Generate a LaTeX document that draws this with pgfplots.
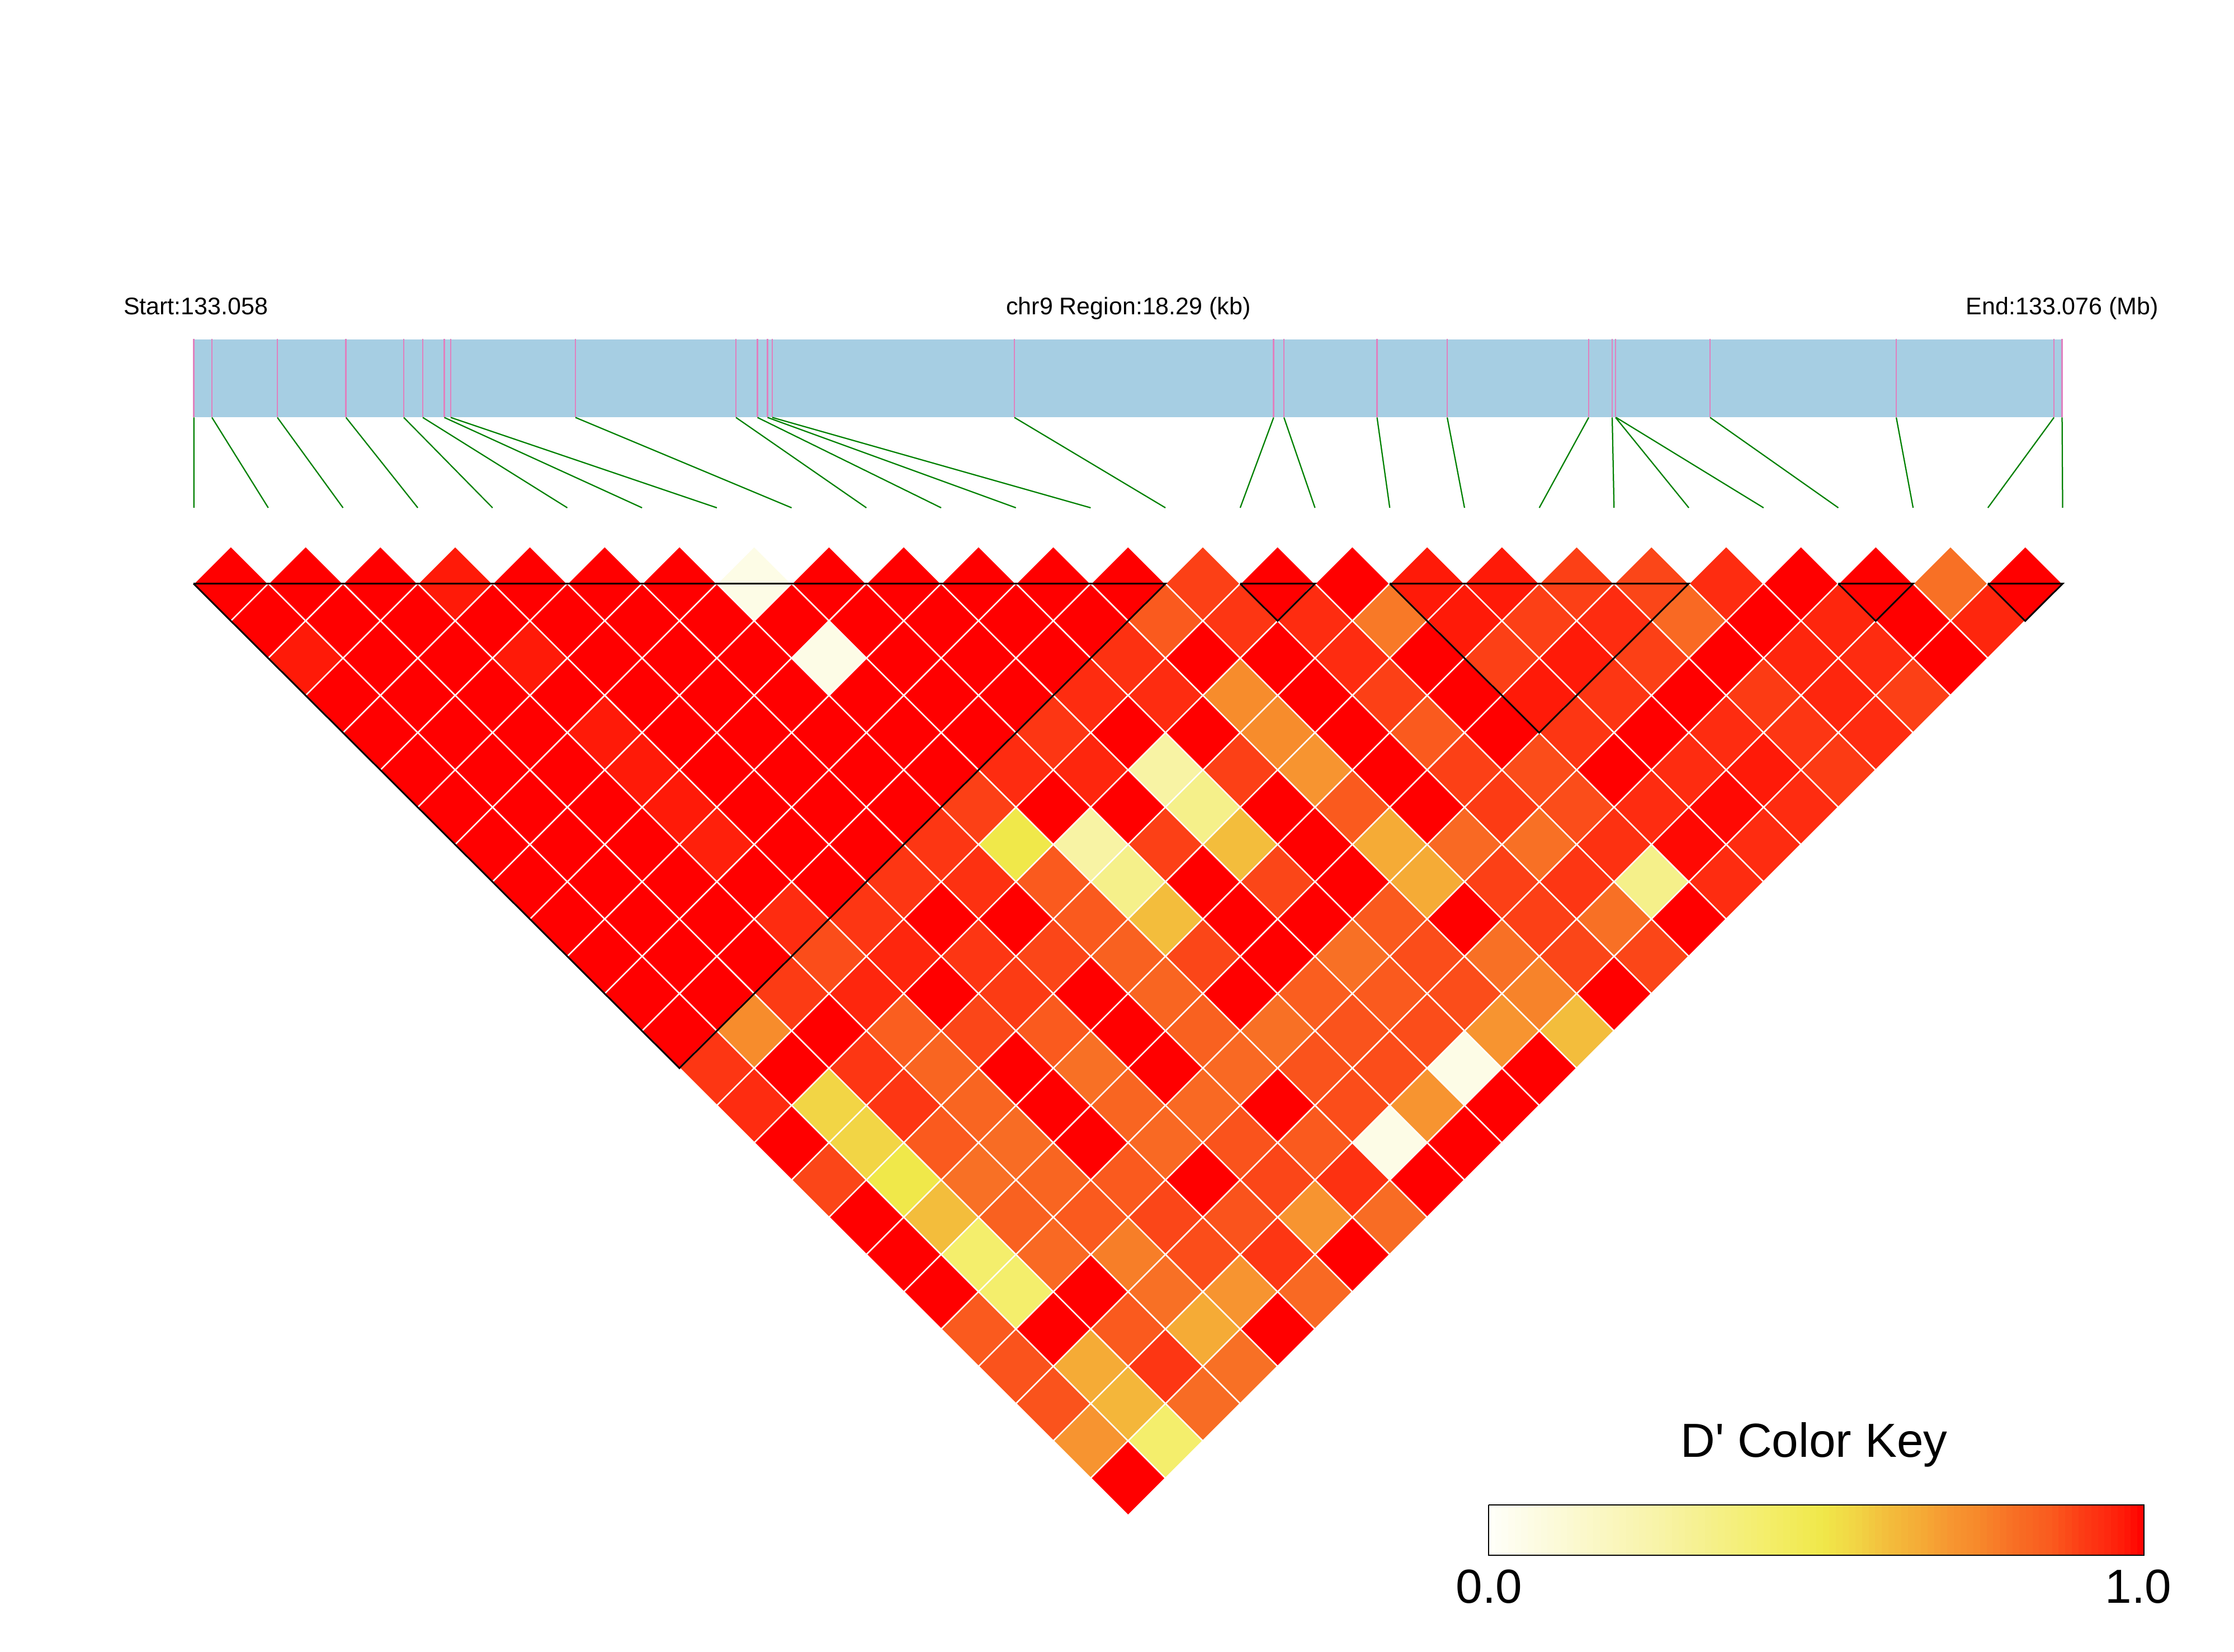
\documentclass[border=0pt]{standalone}
\usepackage{fontspec}
\setmainfont{Liberation Sans}
\newfontfamily\plainfont{Liberation Sans}
\usepackage{pgfplots}
\usepackage{pgfplotstable}
\pgfplotsset{compat=1.18}
\definecolor{trackblue}{HTML}{A6CEE3}
\definecolor{snppink}{HTML}{E080BE}
\definecolor{linkgreen}{HTML}{008000}
\pgfplotsset{canvas/.style={
  at={(0,0)}, anchor=south west,
  scale only axis, width=799pt, height=590.6pt,
  xmin=0, xmax=3995, ymin=0, ymax=2953, y dir=reverse,
  hide axis, clip=false, unbounded coords=jump}}
\pgfplotstableread[row sep=\\]{
i d v\\
0 1 1\\ 1 1 1\\ 2 1 1\\ 3 1 .97\\ 4 1 1\\ 5 1 1\\ 6 1 1\\ 7 1 .06\\ 8 1 1\\ 9 1 1\\ 10 1 1\\ 11 1 1\\ 12 1 1\\ 13 1 .90\\ 14 1 1\\ 15 1 1\\ 16 1 .97\\ 17 1 .97\\ 18 1 .90\\ 19 1 .89\\ 20 1 .94\\ 21 1 1\\ 22 1 1\\ 23 1 .80\\ 24 1 1\\
0 2 1\\ 1 2 1\\ 2 2 1\\ 3 2 1\\ 4 2 1\\ 5 2 1\\ 6 2 1\\ 7 2 1\\ 8 2 1\\ 9 2 1\\ 10 2 1\\ 11 2 1\\ 12 2 .86\\ 13 2 .92\\ 14 2 .94\\ 15 2 .78\\ 16 2 .97\\ 17 2 .90\\ 18 2 .94\\ 19 2 .82\\ 20 2 1\\ 21 2 .95\\ 22 2 1\\ 23 2 .95\\
0 3 .97\\ 1 3 1\\ 2 3 1\\ 3 3 .97\\ 4 3 1\\ 5 3 1\\ 6 3 1\\ 7 3 .06\\ 8 3 1\\ 9 3 1\\ 10 3 1\\ 11 3 .93\\ 12 3 1\\ 13 3 1\\ 14 3 .94\\ 15 3 1\\ 16 3 .90\\ 17 3 .97\\ 18 3 .90\\ 19 3 1\\ 20 3 .95\\ 21 3 .94\\ 22 3 1\\
0 4 1\\ 1 4 1\\ 2 4 1\\ 3 4 1\\ 4 4 1\\ 5 4 1\\ 6 4 1\\ 7 4 1\\ 8 4 1\\ 9 4 1\\ 10 4 .94\\ 11 4 .94\\ 12 4 .74\\ 13 4 1\\ 14 4 .90\\ 15 4 1\\ 16 4 .97\\ 17 4 .92\\ 18 4 1\\ 19 4 .91\\ 20 4 .95\\ 21 4 .90\\
0 5 1\\ 1 5 1\\ 2 5 1\\ 3 5 .97\\ 4 5 1\\ 5 5 1\\ 6 5 1\\ 7 5 1\\ 8 5 1\\ 9 5 .92\\ 10 5 1\\ 11 5 1\\ 12 5 .74\\ 13 5 1\\ 14 5 .86\\ 15 5 1\\ 16 5 .92\\ 17 5 1\\ 18 5 .94\\ 19 5 .92\\ 20 5 .94\\
0 6 1\\ 1 6 1\\ 2 6 1\\ 3 6 .97\\ 4 6 1\\ 5 6 1\\ 6 6 1\\ 7 6 1\\ 8 6 .94\\ 9 6 .95\\ 10 6 .27\\ 11 6 .90\\ 12 6 .71\\ 13 6 1\\ 14 6 .90\\ 15 6 .88\\ 16 6 1\\ 17 6 .94\\ 18 6 .97\\ 19 6 .91\\
0 7 1\\ 1 7 1\\ 2 7 1\\ 3 7 .97\\ 4 7 1\\ 5 7 1\\ 6 7 1\\ 7 7 .90\\ 8 7 1\\ 9 7 1\\ 10 7 .34\\ 11 7 1\\ 12 7 .86\\ 13 7 1\\ 14 7 .91\\ 15 7 .88\\ 16 7 .94\\ 17 7 .99\\ 18 7 .94\\
0 8 1\\ 1 8 1\\ 2 8 1\\ 3 8 .96\\ 4 8 1\\ 5 8 1\\ 6 8 .92\\ 7 8 .51\\ 8 8 .27\\ 9 8 .90\\ 10 8 .61\\ 11 8 1\\ 12 8 .66\\ 13 8 .82\\ 14 8 .80\\ 15 8 .93\\ 16 8 .99\\ 17 8 .94\\
0 9 1\\ 1 9 1\\ 2 9 1\\ 3 9 1\\ 4 9 1\\ 5 9 .92\\ 6 9 .93\\ 7 9 .86\\ 8 9 .34\\ 9 9 1\\ 10 9 .89\\ 11 9 1\\ 12 9 .66\\ 13 9 .90\\ 14 9 .92\\ 15 9 .34\\ 16 9 .94\\
0 10 1\\ 1 10 1\\ 2 10 1\\ 3 10 .94\\ 4 10 .92\\ 5 10 1\\ 6 10 1\\ 7 10 .86\\ 8 10 .61\\ 9 10 1\\ 10 10 1\\ 11 10 .86\\ 12 10 1\\ 13 10 .90\\ 14 10 .80\\ 15 10 1\\
0 11 1\\ 1 11 1\\ 2 11 1\\ 3 11 .88\\ 4 11 .95\\ 5 11 .92\\ 6 11 .89\\ 7 11 .84\\ 8 11 .89\\ 9 11 1\\ 10 11 .80\\ 11 11 .88\\ 12 11 .80\\ 13 11 .89\\ 14 11 .89\\
0 12 1\\ 1 12 1\\ 2 12 .91\\ 3 12 .95\\ 4 12 1\\ 5 12 .91\\ 6 12 1\\ 7 12 .83\\ 8 12 1\\ 9 12 .85\\ 10 12 .86\\ 11 12 .88\\ 12 12 .76\\ 13 12 1\\
0 13 1\\ 1 13 .74\\ 2 13 1\\ 3 13 .85\\ 4 13 .89\\ 5 13 .86\\ 6 13 1\\ 7 13 .84\\ 8 13 .80\\ 9 13 .87\\ 10 13 .88\\ 11 13 .71\\ 12 13 .61\\
0 14 .92\\ 1 14 1\\ 2 14 .92\\ 3 14 .83\\ 4 14 1\\ 5 14 .80\\ 6 14 1\\ 7 14 .82\\ 8 14 .87\\ 9 14 .88\\ 10 14 .06\\ 11 14 1\\
0 15 .94\\ 1 15 .56\\ 2 15 .92\\ 3 15 .83\\ 4 15 1\\ 5 15 .83\\ 6 15 .82\\ 7 15 1\\ 8 15 .88\\ 9 15 .71\\ 10 15 1\\
0 16 1\\ 1 16 .56\\ 2 16 .86\\ 3 16 .81\\ 4 16 1\\ 5 16 .82\\ 6 16 .87\\ 7 16 .86\\ 8 16 .06\\ 9 16 1\\
0 17 .89\\ 1 17 .51\\ 2 17 .80\\ 3 17 .83\\ 4 17 .86\\ 5 17 1\\ 6 17 .89\\ 7 17 .93\\ 8 17 1\\
0 18 1\\ 1 18 .61\\ 2 18 .84\\ 3 18 .86\\ 4 18 .89\\ 5 18 .87\\ 6 18 .71\\ 7 18 .81\\
0 19 1\\ 1 19 .42\\ 2 19 .82\\ 3 19 .77\\ 4 19 .88\\ 5 19 .92\\ 6 19 1\\
0 20 1\\ 1 20 .42\\ 2 20 1\\ 3 20 .80\\ 4 20 .71\\ 5 20 .82\\
0 21 .86\\ 1 21 1\\ 2 21 .86\\ 3 21 .66\\ 4 21 1\\
0 22 .87\\ 1 22 .66\\ 2 22 .92\\ 3 22 .80\\
0 23 .87\\ 1 23 .63\\ 2 23 .81\\
0 24 .71\\ 1 24 .42\\
0 25 1\\
}\ldtable
\pgfplotstableread[row sep=\\]{
v\\
.005\\ .015\\ .025\\ .035\\ .045\\ .055\\ .065\\ .075\\ .085\\ .095\\
.105\\ .115\\ .125\\ .135\\ .145\\ .155\\ .165\\ .175\\ .185\\ .195\\
.205\\ .215\\ .225\\ .235\\ .245\\ .255\\ .265\\ .275\\ .285\\ .295\\
.305\\ .315\\ .325\\ .335\\ .345\\ .355\\ .365\\ .375\\ .385\\ .395\\
.405\\ .415\\ .425\\ .435\\ .445\\ .455\\ .465\\ .475\\ .485\\ .495\\
.505\\ .515\\ .525\\ .535\\ .545\\ .555\\ .565\\ .575\\ .585\\ .595\\
.605\\ .615\\ .625\\ .635\\ .645\\ .655\\ .665\\ .675\\ .685\\ .695\\
.705\\ .715\\ .725\\ .735\\ .745\\ .755\\ .765\\ .775\\ .785\\ .795\\
.805\\ .815\\ .825\\ .835\\ .845\\ .855\\ .865\\ .875\\ .885\\ .895\\
.905\\ .915\\ .925\\ .935\\ .945\\ .955\\ .965\\ .975\\ .985\\ .995\\
}\keytable
\begin{document}
\begin{tikzpicture}
\path[use as bounding box] (0,0) rectangle (799pt,590.6pt);
\begin{axis}[canvas,
  point meta min=0, point meta max=1,
  colormap={ld}{
    rgb255(0pt)=(255,255,250)
    rgb255(6pt)=(253,252,230)
    rgb255(27pt)=(248,243,164)
    rgb255(34pt)=(245,240,138)
    rgb255(42pt)=(244,238,108)
    rgb255(51pt)=(240,232,74)
    rgb255(56pt)=(242,213,69)
    rgb255(61pt)=(243,189,60)
    rgb255(66pt)=(245,171,54)
    rgb255(71pt)=(247,148,48)
    rgb255(74pt)=(247,140,44)
    rgb255(80pt)=(248,112,37)
    rgb255(86pt)=(250,90,30)
    rgb255(90pt)=(252,64,22)
    rgb255(94pt)=(254,44,16)
    rgb255(97pt)=(255,26,8)
    rgb255(100pt)=(255,0,0)
  },
]
% chromosome track
\addplot[fill=trackblue, draw=none] coordinates {(346,607.5) (3688,607.5) (3688,746.5) (346,746.5)} -- cycle;
% SNP ticks in the track
\addplot[snppink, line width=.55pt] coordinates {
(346.8,606)(346.8,746) (nan,nan) (379,606)(379,746) (nan,nan) (496,606)(496,746) (nan,nan) (618.7,606)(618.7,746) (nan,nan)
(722,606)(722,746) (nan,nan) (756,606)(756,746) (nan,nan) (794.5,606)(794.5,746) (nan,nan) (806,606)(806,746) (nan,nan)
(1029,606)(1029,746) (nan,nan) (1316,606)(1316,746) (nan,nan) (1354.5,606)(1354.5,746) (nan,nan) (1372.5,606)(1372.5,746) (nan,nan)
(1381,606)(1381,746) (nan,nan) (1814,606)(1814,746) (nan,nan) (2277.6,606)(2277.6,746) (nan,nan) (2296,606)(2296,746) (nan,nan)
(2462.5,606)(2462.5,746) (nan,nan) (2588,606)(2588,746) (nan,nan) (2841,606)(2841,746) (nan,nan) (2883,606)(2883,746) (nan,nan)
(2889,606)(2889,746) (nan,nan) (3058,606)(3058,746) (nan,nan) (3391,606)(3391,746) (nan,nan) (3673,606)(3673,746) (nan,nan) (3687.5,606)(3687.5,746)
};
% links from the track to the grid
\addplot[linkgreen, line width=.45pt] coordinates {
(346.8,746.5)(346.8,908) (nan,nan) (379,746.5)(479.7,908) (nan,nan) (496,746.5)(613.4,908) (nan,nan) (618.7,746.5)(747.1,908) (nan,nan)
(722,746.5)(880.8,908) (nan,nan) (756,746.5)(1014.5,908) (nan,nan) (794.5,746.5)(1148.2,908) (nan,nan) (806,746.5)(1281.9,908) (nan,nan)
(1029,746.5)(1415.6,908) (nan,nan) (1316,746.5)(1549.3,908) (nan,nan) (1354.5,746.5)(1683,908) (nan,nan) (1372.5,746.5)(1816.7,908) (nan,nan)
(1381,746.5)(1950.4,908) (nan,nan) (1814,746.5)(2084.1,908) (nan,nan) (2277.6,746.5)(2217.8,908) (nan,nan) (2296,746.5)(2351.5,908) (nan,nan)
(2462.5,746.5)(2485.2,908) (nan,nan) (2588,746.5)(2618.9,908) (nan,nan) (2841,746.5)(2752.6,908) (nan,nan) (2883,746.5)(2886.3,908) (nan,nan)
(2889,746.5)(3020,908) (nan,nan) (2890,746.5)(3153.7,908) (nan,nan) (3058,746.5)(3287.4,908) (nan,nan) (3391,746.5)(3421.1,908) (nan,nan)
(3673,746.5)(3554.8,908) (nan,nan) (3687.5,746.5)(3688.5,908)
};
% LD grid
\addplot[scatter, only marks, mark=square*, mark size=9.45pt,
  mark options={rotate=45, line width=.5pt},
  scatter/use mapped color={draw=white, fill=mapped color},
  scatter src=explicit]
  table[x expr={346+66.85*(2*\thisrow{i}+\thisrow{d})},
        y expr={1043.6+66.65*(\thisrow{d}-1)}, meta=v] {\ldtable};
% colour key
\addplot[scatter, only marks, mark=|, mark size=9.1pt,
  mark options={line width=2.45pt},
  scatter/use mapped color={draw=mapped color, fill=mapped color},
  scatter src=explicit]
  table[x index=0, y index=0, x expr={2662+1172*\thisrow{v}}, y expr={2736}, meta=v] {\keytable};
\end{axis}
\begin{axis}[canvas]
% haplotype blocks
\addplot[black, line width=.6pt] coordinates {
(346,1043.6)(2084.1,1043.6)(1215,1910)(346,1043.6) (nan,nan)
(2217.8,1043.6)(2351.5,1043.6)(2284.7,1110.3)(2217.8,1043.6) (nan,nan)
(2485.2,1043.6)(3019.8,1043.6)(2752.5,1310.2)(2485.2,1043.6) (nan,nan)
(3287.4,1043.6)(3421.1,1043.6)(3354.3,1110.3)(3287.4,1043.6) (nan,nan)
(3554.8,1043.6)(3688.5,1043.6)(3621.6,1110.3)(3554.8,1043.6)
};
% colour key frame
\addplot[black, line width=.55pt] coordinates {(2662,2691)(3834,2691)(3834,2781)(2662,2781)(2662,2691)};
% texts
\node[anchor=base west, inner sep=0pt, font=\fontsize{8.6}{10}\selectfont] at (axis cs:220,563) {Start:133.058};
\node[anchor=base, inner sep=0pt, font=\fontsize{8.6}{10}\selectfont] at (axis cs:2018,563) {chr9 Region:18.29 (kb)};
\node[anchor=base east, inner sep=0pt, font=\fontsize{8.6}{10}\selectfont] at (axis cs:3861,563) {End:133.076 (Mb)};
\node[anchor=base, inner sep=0pt, font=\fontsize{17.1}{20}\selectfont] at (axis cs:3244,2605) {\plainfont D' Color Key};
\node[anchor=base, inner sep=0pt, font=\fontsize{17.1}{20}\selectfont] at (axis cs:2663,2866) {0.0};
\node[anchor=base, inner sep=0pt, font=\fontsize{17.1}{20}\selectfont] at (axis cs:3824,2866) {1.0};
\end{axis}
\end{tikzpicture}
\end{document}
